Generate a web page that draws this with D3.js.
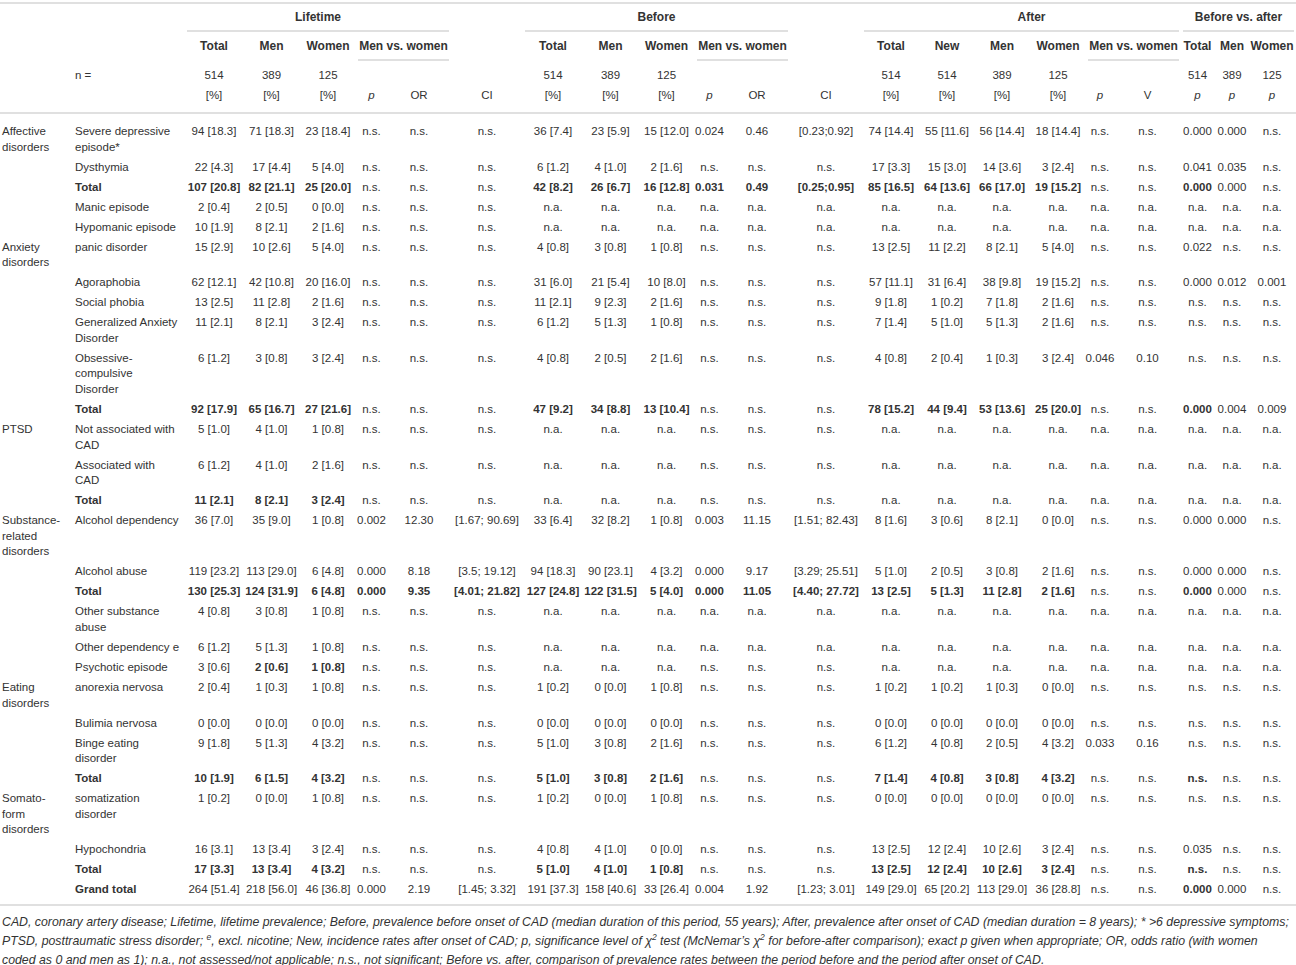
<!DOCTYPE html>
<html>
<head>
<meta charset="utf-8">
<title>Psychiatric disorders before and after CAD</title>
<script src="https://cdn.jsdelivr.net/npm/d3@7"></script>
<style>
  body { margin: 0; background: #fff; }
  svg text { font-family: "Liberation Sans", Arial, Helvetica, sans-serif; font-size: 11.5px; fill: #333; }
  svg text.b { font-weight: bold; }
  svg text.h { font-weight: bold; font-size: 12px; }
  svg text.i { font-style: italic; }
  svg text.note { font-style: italic; font-size: 12.2px; }
  .rule { stroke: #c2c2c2; stroke-width: 1.2; }
</style>
</head>
<body>
<svg width="1296" height="965"></svg>
<script>
var ns = 'n.s.', na = 'n.a.';

var groupLabels = ['Affective\ndisorders', '', '', '', '', 'Anxiety\ndisorders', '', '', '', '', '',
  'PTSD', '', '', 'Substance-\nrelated\ndisorders', '', '', '', '', '', 'Eating\ndisorders', '', '', '',
  'Somato-\nform\ndisorders', '', '', ''];

var rowLabels = ['Severe depressive\nepisode*', 'Dysthymia', 'Total', 'Manic episode', 'Hypomanic episode',
  'panic disorder', 'Agoraphobia', 'Social phobia', 'Generalized Anxiety\nDisorder', 'Obsessive-\ncompulsive\nDisorder',
  'Total', 'Not associated with\nCAD', 'Associated with\nCAD', 'Total', 'Alcohol dependency', 'Alcohol abuse', 'Total',
  'Other substance\nabuse', 'Other dependency e', 'Psychotic episode', 'anorexia nervosa', 'Bulimia nervosa',
  'Binge eating\ndisorder', 'Total', 'somatization\ndisorder', 'Hypochondria', 'Total', 'Grand total'];

// Lifetime
var lifetimeTotal = ['94 [18.3]', '22 [4.3]', '107 [20.8]', '2 [0.4]', '10 [1.9]', '15 [2.9]', '62 [12.1]', '13 [2.5]',
  '11 [2.1]', '6 [1.2]', '92 [17.9]', '5 [1.0]', '6 [1.2]', '11 [2.1]', '36 [7.0]', '119 [23.2]', '130 [25.3]',
  '4 [0.8]', '6 [1.2]', '3 [0.6]', '2 [0.4]', '0 [0.0]', '9 [1.8]', '10 [1.9]', '1 [0.2]', '16 [3.1]', '17 [3.3]', '264 [51.4]'];
var lifetimeMen = ['71 [18.3]', '17 [4.4]', '82 [21.1]', '2 [0.5]', '8 [2.1]', '10 [2.6]', '42 [10.8]', '11 [2.8]',
  '8 [2.1]', '3 [0.8]', '65 [16.7]', '4 [1.0]', '4 [1.0]', '8 [2.1]', '35 [9.0]', '113 [29.0]', '124 [31.9]',
  '3 [0.8]', '5 [1.3]', '2 [0.6]', '1 [0.3]', '0 [0.0]', '5 [1.3]', '6 [1.5]', '0 [0.0]', '13 [3.4]', '13 [3.4]', '218 [56.0]'];
var lifetimeWomen = ['23 [18.4]', '5 [4.0]', '25 [20.0]', '0 [0.0]', '2 [1.6]', '5 [4.0]', '20 [16.0]', '2 [1.6]',
  '3 [2.4]', '3 [2.4]', '27 [21.6]', '1 [0.8]', '2 [1.6]', '3 [2.4]', '1 [0.8]', '6 [4.8]', '6 [4.8]',
  '1 [0.8]', '1 [0.8]', '1 [0.8]', '1 [0.8]', '0 [0.0]', '4 [3.2]', '4 [3.2]', '1 [0.8]', '3 [2.4]', '4 [3.2]', '46 [36.8]'];
var lifetimeP = [ns, ns, ns, ns, ns, ns, ns, ns, ns, ns, ns, ns, ns, ns, '0.002', '0.000', '0.000',
  ns, ns, ns, ns, ns, ns, ns, ns, ns, ns, '0.000'];
var lifetimeOR = [ns, ns, ns, ns, ns, ns, ns, ns, ns, ns, ns, ns, ns, ns, '12.30', '8.18', '9.35',
  ns, ns, ns, ns, ns, ns, ns, ns, ns, ns, '2.19'];
var lifetimeCI = [ns, ns, ns, ns, ns, ns, ns, ns, ns, ns, ns, ns, ns, ns, '[1.67; 90.69]', '[3.5; 19.12]', '[4.01; 21.82]',
  ns, ns, ns, ns, ns, ns, ns, ns, ns, ns, '[1.45; 3.32]'];

// Before onset of CAD
var beforeTotal = ['36 [7.4]', '6 [1.2]', '42 [8.2]', na, na, '4 [0.8]', '31 [6.0]', '11 [2.1]', '6 [1.2]', '4 [0.8]',
  '47 [9.2]', na, na, na, '33 [6.4]', '94 [18.3]', '127 [24.8]', na, na, na, '1 [0.2]', '0 [0.0]', '5 [1.0]',
  '5 [1.0]', '1 [0.2]', '4 [0.8]', '5 [1.0]', '191 [37.3]'];
var beforeMen = ['23 [5.9]', '4 [1.0]', '26 [6.7]', na, na, '3 [0.8]', '21 [5.4]', '9 [2.3]', '5 [1.3]', '2 [0.5]',
  '34 [8.8]', na, na, na, '32 [8.2]', '90 [23.1]', '122 [31.5]', na, na, na, '0 [0.0]', '0 [0.0]', '3 [0.8]',
  '3 [0.8]', '0 [0.0]', '4 [1.0]', '4 [1.0]', '158 [40.6]'];
var beforeWomen = ['15 [12.0]', '2 [1.6]', '16 [12.8]', na, na, '1 [0.8]', '10 [8.0]', '2 [1.6]', '1 [0.8]', '2 [1.6]',
  '13 [10.4]', na, na, na, '1 [0.8]', '4 [3.2]', '5 [4.0]', na, na, na, '1 [0.8]', '0 [0.0]', '2 [1.6]',
  '2 [1.6]', '1 [0.8]', '0 [0.0]', '1 [0.8]', '33 [26.4]'];
var beforeP = ['0.024', ns, '0.031', na, na, ns, ns, ns, ns, ns, ns, ns, ns, ns, '0.003', '0.000', '0.000',
  na, na, ns, ns, ns, ns, ns, ns, ns, ns, '0.004'];
var beforeOR = ['0.46', ns, '0.49', na, na, ns, ns, ns, ns, ns, ns, ns, ns, ns, '11.15', '9.17', '11.05',
  na, na, ns, ns, ns, ns, ns, ns, ns, ns, '1.92'];
var beforeCI = ['[0.23;0.92]', ns, '[0.25;0.95]', na, na, ns, ns, ns, ns, ns, ns, ns, ns, ns,
  '[1.51; 82.43]', '[3.29; 25.51]', '[4.40; 27.72]', na, na, ns, ns, ns, ns, ns, ns, ns, ns, '[1.23; 3.01]'];

// After onset of CAD
var afterTotal = ['74 [14.4]', '17 [3.3]', '85 [16.5]', na, na, '13 [2.5]', '57 [11.1]', '9 [1.8]', '7 [1.4]', '4 [0.8]',
  '78 [15.2]', na, na, na, '8 [1.6]', '5 [1.0]', '13 [2.5]', na, na, na, '1 [0.2]', '0 [0.0]', '6 [1.2]',
  '7 [1.4]', '0 [0.0]', '13 [2.5]', '13 [2.5]', '149 [29.0]'];
var afterNew = ['55 [11.6]', '15 [3.0]', '64 [13.6]', na, na, '11 [2.2]', '31 [6.4]', '1 [0.2]', '5 [1.0]', '2 [0.4]',
  '44 [9.4]', na, na, na, '3 [0.6]', '2 [0.5]', '5 [1.3]', na, na, na, '1 [0.2]', '0 [0.0]', '4 [0.8]',
  '4 [0.8]', '0 [0.0]', '12 [2.4]', '12 [2.4]', '65 [20.2]'];
var afterMen = ['56 [14.4]', '14 [3.6]', '66 [17.0]', na, na, '8 [2.1]', '38 [9.8]', '7 [1.8]', '5 [1.3]', '1 [0.3]',
  '53 [13.6]', na, na, na, '8 [2.1]', '3 [0.8]', '11 [2.8]', na, na, na, '1 [0.3]', '0 [0.0]', '2 [0.5]',
  '3 [0.8]', '0 [0.0]', '10 [2.6]', '10 [2.6]', '113 [29.0]'];
var afterWomen = ['18 [14.4]', '3 [2.4]', '19 [15.2]', na, na, '5 [4.0]', '19 [15.2]', '2 [1.6]', '2 [1.6]', '3 [2.4]',
  '25 [20.0]', na, na, na, '0 [0.0]', '2 [1.6]', '2 [1.6]', na, na, na, '0 [0.0]', '0 [0.0]', '4 [3.2]',
  '4 [3.2]', '0 [0.0]', '3 [2.4]', '3 [2.4]', '36 [28.8]'];
var afterP = [ns, ns, ns, na, na, ns, ns, ns, ns, '0.046', ns, na, na, na, ns, ns, ns, na, na, na,
  ns, ns, '0.033', ns, ns, ns, ns, ns];
var afterV = [ns, ns, ns, na, na, ns, ns, ns, ns, '0.10', ns, na, na, na, ns, ns, ns, na, na, na,
  ns, ns, '0.16', ns, ns, ns, ns, ns];

// Before vs. after
var changeTotal = ['0.000', '0.041', '0.000', na, na, '0.022', '0.000', ns, ns, ns, '0.000', na, na, na,
  '0.000', '0.000', '0.000', na, na, na, ns, ns, ns, ns, ns, '0.035', ns, '0.000'];
var changeMen = ['0.000', '0.035', '0.000', na, na, ns, '0.012', ns, ns, ns, '0.004', na, na, na,
  '0.000', '0.000', '0.000', na, na, na, ns, ns, ns, ns, ns, ns, ns, '0.000'];
var changeWomen = [ns, ns, ns, na, na, ns, '0.001', ns, ns, ns, '0.009', na, na, na,
  ns, ns, ns, na, na, na, ns, ns, ns, ns, ns, ns, ns, ns];

var sampleN = ['514', '389', '125'];

// layout
var colKeys = ['group', 'label', 'LT', 'LM', 'LW', 'Lp', 'LOR', 'LCI', 'BT', 'BM', 'BW', 'Bp', 'BOR', 'BCI',
  'AT', 'AN', 'AM', 'AW', 'Ap', 'AV', 'VT', 'VM', 'VW'];
var colEdges = [0, 72, 185, 243, 300, 356, 387, 451, 523, 583, 638, 695, 724, 790, 862, 920, 974, 1030, 1086, 1114, 1181, 1214, 1250, 1294];

var valueCols = {
  LT: lifetimeTotal, LM: lifetimeMen, LW: lifetimeWomen, Lp: lifetimeP, LOR: lifetimeOR, LCI: lifetimeCI,
  BT: beforeTotal, BM: beforeMen, BW: beforeWomen, Bp: beforeP, BOR: beforeOR, BCI: beforeCI,
  AT: afterTotal, AN: afterNew, AM: afterMen, AW: afterWomen, Ap: afterP, AV: afterV,
  VT: changeTotal, VM: changeMen, VW: changeWomen
};

// bold cells (style only)
var totalCounts = ['LT', 'LM', 'LW', 'BT', 'BM', 'BW', 'AT', 'AN', 'AM', 'AW', 'VT'];
var boldCells = {
  2: totalCounts.concat(['Bp', 'BOR', 'BCI']),
  10: totalCounts,
  13: ['LT', 'LM', 'LW'],
  16: totalCounts.concat(['Lp', 'LOR', 'LCI', 'Bp', 'BOR', 'BCI']),
  19: ['LM', 'LW'],
  23: totalCounts,
  26: totalCounts,
  27: ['VT']
};
var boldLabels = [2, 10, 13, 16, 23, 26, 27];

var svg = d3.select('svg');

var x = d3.scaleOrdinal().domain(colKeys).range(colKeys.map(function(k, i) {
  return (colEdges[i] + colEdges[i + 1]) / 2;
}));
var left = d3.scaleOrdinal().domain(colKeys).range(colEdges.slice(0, -1));
var right = d3.scaleOrdinal().domain(colKeys).range(colEdges.slice(1));

var lineH = 15.6, pad = 4.4, top0 = 120;
var nLines = rowLabels.map(function(l, i) {
  return Math.max(l.split('\n').length, groupLabels[i] ? groupLabels[i].split('\n').length : 1);
});
var heights = nLines.map(function(n) { return pad + lineH * n; });
var tops = [top0].concat(Array.from(d3.cumsum(heights), function(h) { return top0 + h; })).slice(0, -1);
var y = d3.scaleOrdinal().domain(d3.range(rowLabels.length)).range(tops);

function rule(x1, x2, yy) {
  svg.append('line').attr('class', 'rule')
    .attr('x1', x1).attr('x2', x2).attr('y1', yy).attr('y2', yy);
}

function txt(str, xx, yy, anchor, cls) {
  return svg.append('text').attr('x', xx).attr('y', yy)
    .attr('text-anchor', anchor || 'middle').attr('class', cls || null).text(str);
}

// header
rule(0, 1296, 3);
var topHeads = [
  { name: 'Lifetime', from: 'LT', to: 'LOR', dx: 0 },
  { name: 'Before', from: 'BT', to: 'BOR', dx: 0 },
  { name: 'After', from: 'AT', to: 'AV', dx: 10 },
  { name: 'Before vs. after', from: 'VT', to: 'VW', dx: 0 }
];
topHeads.forEach(function(h, i) {
  var a = left(h.from), b = right(h.to);
  if (i === 3) b = 1296;
  txt(h.name, (a + b) / 2 + h.dx, 21, 'middle', 'h');
  rule(a + 2, b - 2, 31);
});

var subHeads = { LT: 'Total', LM: 'Men', LW: 'Women', BT: 'Total', BM: 'Men', BW: 'Women',
  AT: 'Total', AN: 'New', AM: 'Men', AW: 'Women', VT: 'Total', VM: 'Men', VW: 'Women' };
Object.keys(subHeads).forEach(function(k) { txt(subHeads[k], x(k), 50, 'middle', 'h'); });
[['Lp', 'LOR'], ['Bp', 'BOR'], ['Ap', 'AV']].forEach(function(p) {
  var a = left(p[0]), b = right(p[1]);
  txt('Men vs. women', (a + b) / 2, 50, 'middle', 'h');
  rule(a + 2, b - 2, 60);
});

txt('n =', colEdges[1] + 3, 79, 'start');
var nCols = [['LT', 'LM', 'LW'], ['BT', 'BM', 'BW'], ['AT', 'AM', 'AW'], ['VT', 'VM', 'VW']];
nCols.forEach(function(set) {
  set.forEach(function(k, j) { txt(sampleN[j], x(k), 79); });
});
txt(sampleN[0], x('AN'), 79);

['LT', 'LM', 'LW', 'BT', 'BM', 'BW', 'AT', 'AN', 'AM', 'AW'].forEach(function(k) { txt('[%]', x(k), 99); });
['Lp', 'Bp', 'Ap', 'VT', 'VM', 'VW'].forEach(function(k) { txt('p', x(k), 99, 'middle', 'i'); });
['LOR', 'BOR'].forEach(function(k) { txt('OR', x(k), 99); });
['LCI', 'BCI'].forEach(function(k) { txt('CI', x(k), 99); });
txt('V', x('AV'), 99);
rule(0, 1296, 113);

// body
function multi(str, xx, yy, anchor, cls) {
  var t = txt('', xx, yy, anchor, cls);
  str.split('\n').forEach(function(s, j) {
    t.append('tspan').attr('x', xx).attr('y', yy + j * lineH).text(s);
  });
}

rowLabels.forEach(function(lab, i) {
  var base = y(i) + 15;
  if (groupLabels[i]) multi(groupLabels[i], 2, base, 'start');
  multi(lab, colEdges[1] + 3, base, 'start', boldLabels.indexOf(i) >= 0 ? 'b' : null);
});

var cells = [];
Object.keys(valueCols).forEach(function(k) {
  valueCols[k].forEach(function(v, i) {
    cells.push({ col: k, row: i, v: v, bold: (boldCells[i] || []).indexOf(k) >= 0 });
  });
});

svg.append('g').selectAll('text').data(cells).enter().append('text')
  .attr('x', function(d) { return x(d.col); })
  .attr('y', function(d) { return y(d.row) + 15; })
  .attr('text-anchor', 'middle')
  .attr('class', function(d) { return d.bold ? 'b' : null; })
  .text(function(d) { return d.v; });

rule(0, 1296, 905);

// footnote
var note1 = 'CAD, coronary artery disease; Lifetime, lifetime prevalence; Before, prevalence before onset of CAD (median duration of this period, 55 years); After, prevalence after onset of CAD (median duration = 8 years); * >6 depressive symptoms;';
var note2 = [['PTSD, posttraumatic stress disorder; ', 0], ['e', 1], [', excl. nicotine; New, incidence rates after onset of CAD; p, significance level of \u03c7', 0], ['2', 1],
  [' test (McNemar\u2019s \u03c7', 0], ['2', 1], [' for before-after comparison); exact p given when appropriate; OR, odds ratio (with women', 0]];
var note3 = 'coded as 0 and men as 1); n.a., not assessed/not applicable; n.s., not significant; Before vs. after, comparison of prevalence rates between the period before and the period after onset of CAD.';

var n1 = txt(note1, 2, 926, 'start', 'note');
var t2 = txt('', 2, 945, 'start', 'note');
note2.forEach(function(p, i) {
  var prevSup = i > 0 && note2[i - 1][1];
  var s = t2.append('tspan').text(p[0]).attr('dy', p[1] ? -5 : (prevSup ? 5 : 0));
  if (p[1]) s.style('font-size', '8.5px');
});
var n3 = txt(note3, 2, 964, 'start', 'note');

// fit the first footnote line to the table width
var len = n1.node().getComputedTextLength();
var fs = 12.2 * 1287 / len;
[n1, t2, n3].forEach(function(t) { t.style('font-size', fs + 'px'); });
</script>
</body>
</html>
